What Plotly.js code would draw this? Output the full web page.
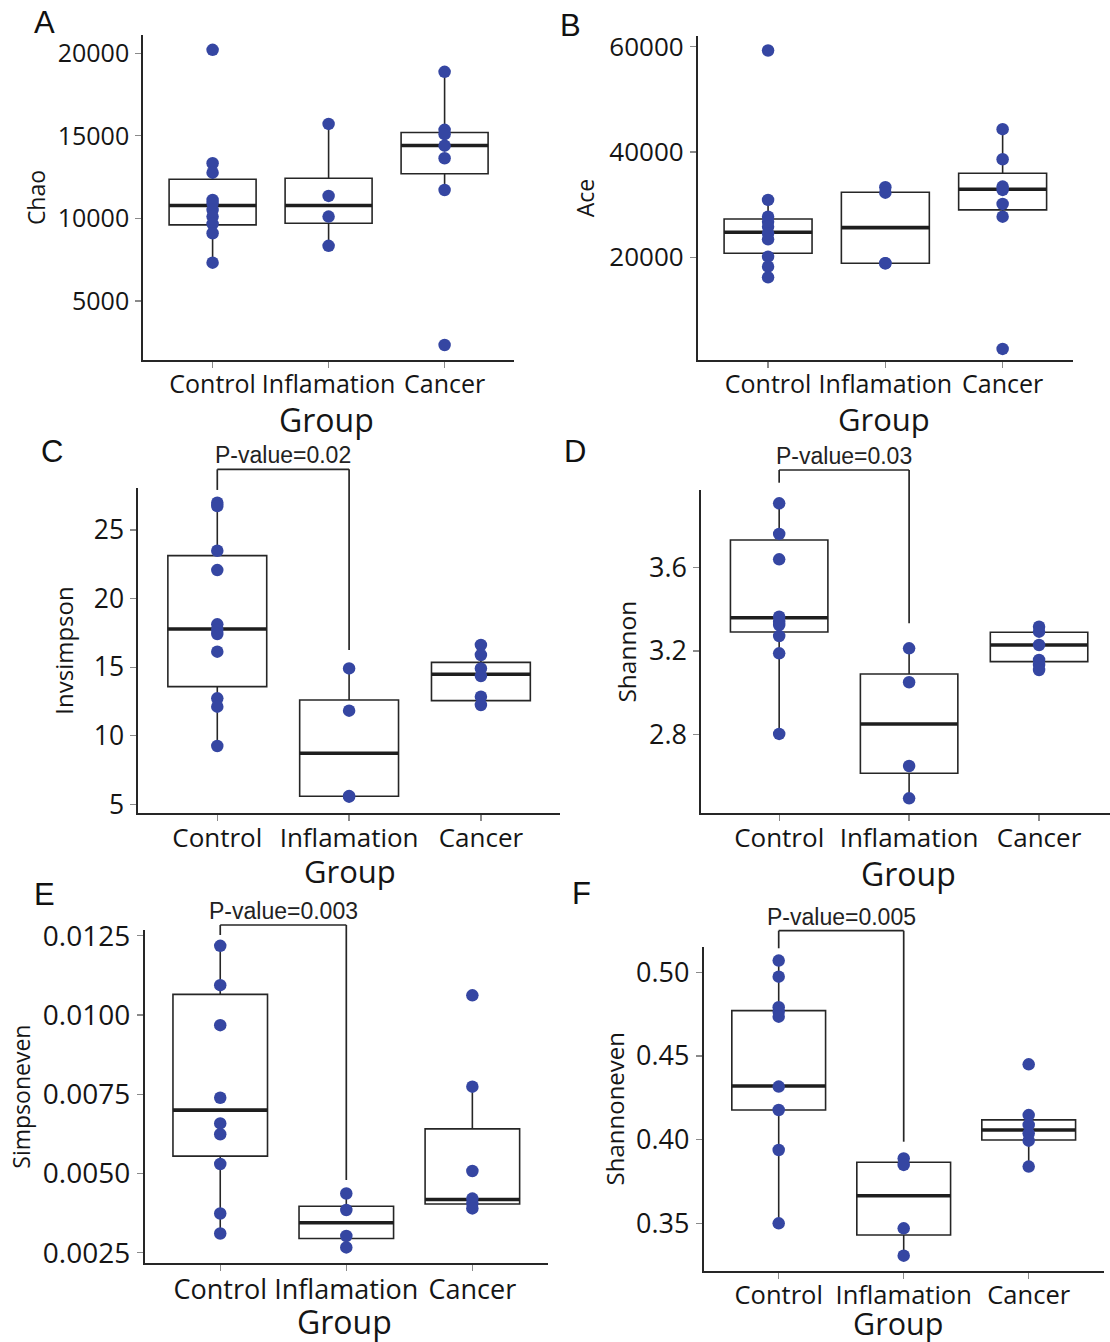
<!DOCTYPE html>
<html><head><meta charset="utf-8">
<script src="https://cdn.plot.ly/plotly-3.0.1.min.js"></script>
<style>html,body{margin:0;padding:0;background:#fff}</style>
</head><body><div id="chart" style="width:1110px;height:1342px"></div>
<script>
const groups = ['Control', 'Inflamation', 'Cancer'];
const xTitle = 'Group';

// A: Chao
const chaoControl = [20200, 13340, 12770, 11120, 10920, 10510, 10110, 9670, 9100, 7320];
const chaoInflam  = [15720, 11360, 10110, 8340];
const chaoCancer  = [18870, 15360, 15100, 14400, 13640, 11720, 2340];
const chaoQ1  = [9610, 9710, 12700];
const chaoMed = [10780, 10780, 14410];
const chaoQ3  = [12370, 12430, 15200];
const chaoLo  = [7320, 8340, 11720];
const chaoHi  = [13340, 15720, 18870];

// B: Ace
const aceControl = [59240, 30880, 27710, 26760, 25810, 24550, 23410, 20110, 18210, 16190];
const aceInflam  = [33290, 32270, 18860, 18860];
const aceCancer  = [44310, 38610, 33410, 32780, 30120, 27710, 2600];
const aceQ1  = [20760, 18860, 28990];
const aceMed = [24740, 25630, 32910];
const aceQ3  = [27270, 32340, 35960];
const aceLo  = [16190, 18860, 27710];
const aceHi  = [30880, 33290, 44310];

// C: Invsimpson
const invControl = [26.99, 26.75, 23.49, 22.08, 18.12, 17.71, 17.42, 16.13, 12.73, 12.12, 9.25];
const invInflam  = [14.91, 11.83, 5.56, 5.6];
const invCancer  = [16.62, 15.89, 14.91, 14.35, 12.85, 12.24];
const invQ1  = [13.58, 5.59, 12.56];
const invMed = [17.78, 8.72, 14.48];
const invQ3  = [23.13, 12.61, 15.35];
const invLo  = [9.25, 5.56, 12.24];
const invHi  = [26.99, 14.91, 16.62];

// D: Shannon
const shanControl = [3.909, 3.762, 3.640, 3.365, 3.340, 3.325, 3.272, 3.189, 2.802];
const shanInflam  = [3.213, 3.050, 2.648, 2.493];
const shanCancer  = [3.317, 3.293, 3.229, 3.157, 3.133, 3.109];
const shanQ1  = [3.291, 2.613, 3.149];
const shanMed = [3.360, 2.850, 3.229];
const shanQ3  = [3.733, 3.090, 3.290];
const shanLo  = [2.802, 2.493, 3.109];
const shanHi  = [3.909, 3.213, 3.317];

// E: Simpsoneven
const simpControl = [0.01218, 0.01094, 0.00968, 0.00739, 0.00658, 0.00624, 0.00530, 0.00374, 0.00311];
const simpInflam  = [0.00437, 0.00385, 0.00303, 0.00267];
const simpCancer  = [0.01062, 0.00774, 0.00508, 0.00421, 0.00406, 0.00390];
const simpQ1  = [0.00555, 0.00295, 0.00404];
const simpMed = [0.00700, 0.00345, 0.00418];
const simpQ3  = [0.01065, 0.00397, 0.00641];
const simpLo  = [0.00311, 0.00267, 0.00390];
const simpHi  = [0.01218, 0.00437, 0.00774];

// F: Shannoneven
const sevenControl = [0.507, 0.4974, 0.4791, 0.4765, 0.4735, 0.4317, 0.4177, 0.3938, 0.350];
const sevenInflam  = [0.3888, 0.3849, 0.347, 0.3307];
const sevenCancer  = [0.445, 0.4147, 0.4088, 0.4038, 0.3994, 0.3839];
const sevenQ1  = [0.4177, 0.343, 0.3998];
const sevenMed = [0.4321, 0.3665, 0.4058];
const sevenQ3  = [0.4771, 0.3865, 0.4118];
const sevenLo  = [0.350, 0.3307, 0.3839];
const sevenHi  = [0.507, 0.3888, 0.4147];

// significance brackets: [bracket top, left leg end, right leg end] in data units
const pLabels = ['P-value=0.02', 'P-value=0.03', 'P-value=0.003', 'P-value=0.005'];
const invBracket   = [29.42, 27.92, 16.25];
const shanBracket  = [4.069, 4.008, 3.333];
const simpBracket  = [0.012837, 0.012522, 0.004797];
const sevenBracket = [0.52486, 0.51435, 0.39878];

const W = 1110, H = 1342;
const BOXW = 0.75;

// px: [left, right, top, bottom] of the panel axes in pixels; lp: letter centre; gp: "Group" centre
const panels = [
  {letter:'A', ytitle:'Chao', pts:[chaoControl, chaoInflam, chaoCancer], q1:chaoQ1, med:chaoMed, q3:chaoQ3, lo:chaoLo, hi:chaoHi,
   yr:[1430, 21100], yt:[5000, 10000, 15000, 20000], fmt:'d', px:[143, 514.2, 35, 360], xr:[-0.6, 2.6], lp:[44, 23],
   fx:25, fy:25, fg:32, gp:[326, 419], yts:23, yst:6},
  {letter:'B', ytitle:'Ace', pts:[aceControl, aceInflam, aceCancer], q1:aceQ1, med:aceMed, q3:aceQ3, lo:aceLo, hi:aceHi,
   yr:[500, 62000], yt:[20000, 40000, 60000], fmt:'d', px:[697.7, 1073, 36, 360], xr:[-0.6, 2.6], lp:[570, 25],
   fx:25, fy:26, fg:31, gp:[884, 419], yts:23, yst:8},
  {letter:'C', ytitle:'Invsimpson', pts:[invControl, invInflam, invCancer], q1:invQ1, med:invMed, q3:invQ3, lo:invLo, hi:invHi,
   yr:[4.39, 28.04], yt:[5, 10, 15, 20, 25], fmt:'d', px:[138.2, 560, 488.3, 812.7], xr:[-0.6, 2.6], lp:[52, 452],
   fx:26, fy:26.5, fg:31, gp:[350, 871], yts:24, yst:13, br:invBracket, pl:pLabels[0]},
  {letter:'D', ytitle:'Shannon', pts:[shanControl, shanInflam, shanCancer], q1:shanQ1, med:shanMed, q3:shanQ3, lo:shanLo, hi:shanHi,
   yr:[2.421, 3.973], yt:[2.8, 3.2, 3.6], fmt:'.1f', px:[701.2, 1110, 490, 813.3], xr:[-0.6, 2.546], lp:[575, 452],
   fx:26, fy:27, fg:32, gp:[908, 873], yts:24.5, yst:5, br:shanBracket, pl:pLabels[1]},
  {letter:'E', ytitle:'Simpsoneven', pts:[simpControl, simpInflam, simpCancer], q1:simpQ1, med:simpMed, q3:simpQ3, lo:simpLo, hi:simpHi,
   yr:[0.00217, 0.01268], yt:[0.0025, 0.005, 0.0075, 0.01, 0.0125], fmt:'.4f', px:[144.6, 548, 930, 1263.3], xr:[-0.6, 2.6], lp:[44, 894],
   fx:27, fy:28, fg:32, gp:[344, 1321], yts:23, yst:6, br:simpBracket, pl:pLabels[2]},
  {letter:'F', ytitle:'Shannoneven', pts:[sevenControl, sevenInflam, sevenCancer], q1:sevenQ1, med:sevenMed, q3:sevenQ3, lo:sevenLo, hi:sevenHi,
   yr:[0.3217, 0.5153], yt:[0.35, 0.40, 0.45, 0.50], fmt:'.2f', px:[703.7, 1103.7, 946.7, 1270.7], xr:[-0.6, 2.6], lp:[581, 893],
   fx:25.5, fy:27, fg:30.5, gp:[898, 1323], yts:24, yst:5, br:sevenBracket, pl:pLabels[3]}
];

const traces = [];
const layout = {
  width: W, height: H,
  margin: {l:0, r:0, t:0, b:0},
  paper_bgcolor: '#ffffff', plot_bgcolor: 'rgba(0,0,0,0)',
  showlegend: false,
  font: {family: 'Open Sans, sans-serif', color: '#151515'},
  annotations: [], shapes: []
};

const lineCol = '#262626';

panels.forEach((p, i) => {
  const n = i === 0 ? '' : String(i + 1);
  const xa = 'x' + n, ya = 'y' + n;
  traces.push({
    type: 'box', xaxis: xa, yaxis: ya,
    x: [0, 1, 2], q1: p.q1, median: p.med, q3: p.q3, lowerfence: p.lo, upperfence: p.hi,
    boxpoints: false, width: BOXW, whiskerwidth: 0,
    fillcolor: 'rgba(255,255,255,1)', line: {color: lineCol, width: 1.6},
    hoverinfo: 'skip'
  });
  const mx = [], my = [];
  p.med.forEach((m, k) => { mx.push(k - BOXW / 2, k + BOXW / 2, null); my.push(m, m, null); });
  traces.push({type: 'scatter', mode: 'lines', xaxis: xa, yaxis: ya, x: mx, y: my,
    line: {color: '#1e1e1e', width: 3.6}, hoverinfo: 'skip'});
  const px = [], py = [];
  p.pts.forEach((arr, k) => arr.forEach(v => { px.push(k); py.push(v); }));
  traces.push({type: 'scatter', mode: 'markers', xaxis: xa, yaxis: ya, x: px, y: py,
    marker: {color: '#3546a2', size: 12.5}, cliponaxis: false, hoverinfo: 'skip'});

  layout['xaxis' + n] = {
    domain: [p.px[0] / W, p.px[1] / W], anchor: ya, range: p.xr,
    tickmode: 'array', tickvals: [0, 1, 2], ticktext: groups, tickangle: 0,
    showline: true, linecolor: lineCol, linewidth: 1.8,
    ticks: 'outside', ticklen: 6, tickwidth: 1.3, tickcolor: '#8a8a8a', ticklabelstandoff: -5,
    showgrid: false, zeroline: false, tickfont: {size: p.fx}
  };
  layout['yaxis' + n] = {
    domain: [1 - p.px[3] / H, 1 - p.px[2] / H], anchor: xa, range: p.yr,
    tickmode: 'array', tickvals: p.yt, tickformat: p.fmt,
    showline: true, linecolor: lineCol, linewidth: 1.8,
    ticks: 'outside', ticklen: 6, tickwidth: 1.3, tickcolor: '#8a8a8a', ticklabelstandoff: 1,
    showgrid: false, zeroline: false, tickfont: {size: p.fy},
    title: {text: p.ytitle, font: {size: p.yts}, standoff: p.yst}
  };
  layout.annotations.push({xref: 'paper', yref: 'paper', x: p.gp[0] / W, y: 1 - p.gp[1] / H,
    xanchor: 'center', yanchor: 'middle', showarrow: false, text: xTitle, borderpad: 0,
    font: {size: p.fg, color: '#151515'}});
  layout.annotations.push({xref: 'paper', yref: 'paper', x: p.lp[0] / W, y: 1 - p.lp[1] / H,
    xanchor: 'center', yanchor: 'middle', showarrow: false, text: p.letter,
    font: {family: 'Liberation Sans, Arial, sans-serif', size: 31, color: '#111'}});

  if (p.br) {
    const fx = v => (v - p.xr[0]) / (p.xr[1] - p.xr[0]);
    const fy = v => (v - p.yr[0]) / (p.yr[1] - p.yr[0]);
    const xd = xa + ' domain', yd = ya + ' domain';
    const ln = {color: lineCol, width: 1.7};
    layout.shapes.push(
      {type: 'line', xref: xd, yref: yd, x0: fx(0), x1: fx(1), y0: fy(p.br[0]), y1: fy(p.br[0]), line: ln},
      {type: 'line', xref: xd, yref: yd, x0: fx(0), x1: fx(0), y0: fy(p.br[0]), y1: fy(p.br[1]), line: ln},
      {type: 'line', xref: xd, yref: yd, x0: fx(1), x1: fx(1), y0: fy(p.br[0]), y1: fy(p.br[2]), line: ln}
    );
    layout.annotations.push({xref: xd, yref: yd, x: fx(0.5), y: fy(p.br[0]),
      xanchor: 'center', yanchor: 'bottom', yshift: -1, showarrow: false, text: p.pl,
      font: {family: 'Liberation Sans, Arial, sans-serif', size: 23, color: '#222'}});
  }
});

Plotly.newPlot('chart', traces, layout, {displayModeBar: false, staticPlot: true});
</script>
</body></html>
